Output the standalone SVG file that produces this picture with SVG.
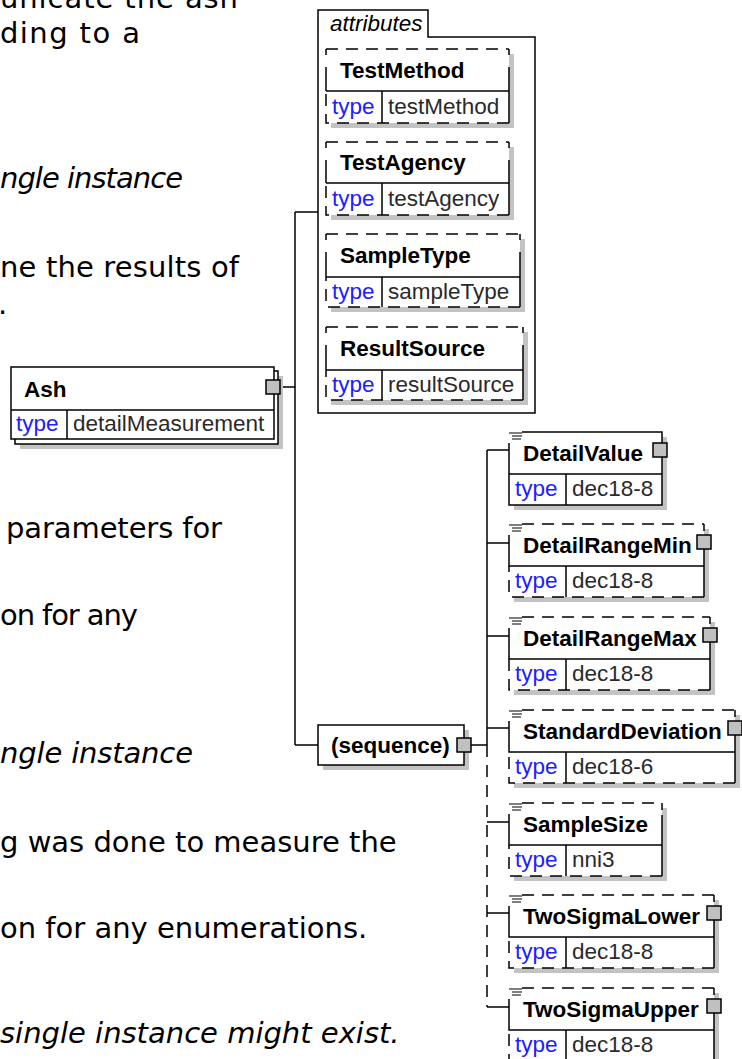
<svg xmlns="http://www.w3.org/2000/svg" width="742" height="1059" viewBox="0 0 742 1059">
<style>
.ln{stroke:#000;stroke-width:1.5;fill:none}
.ds{stroke-dasharray:12 8}
.dh{stroke-dasharray:6 12 200}
.dr{stroke-dasharray:7 5 200}
.sh{fill:#c3c3c3}
.bx{fill:#fff}
.bxs{fill:#fff;stroke:#000;stroke-width:1.5}
.btn{fill:#c0c0c0;stroke:#000;stroke-width:1.5}
.doc{stroke:#000;stroke-width:1.2}
.nm{font-family:"Liberation Sans",Arial,sans-serif;font-weight:bold;font-size:22.5px;fill:#000}
.ty{font-family:"Liberation Sans",Arial,sans-serif;font-size:22.5px;fill:#2020ff}
.tv{font-family:"Liberation Sans",Arial,sans-serif;font-size:22.5px;fill:#2a2a2a}
.it{font-family:"Liberation Sans",Arial,sans-serif;font-style:italic;font-size:22.5px;fill:#000}
.body{font-family:"DejaVu Sans",Verdana,sans-serif;font-size:29px;fill:#000}
.bi{font-style:italic}
</style>
<rect width="742" height="1059" fill="#fff"/>
<g id="bodytext">
<text class="body" x="0" y="8" textLength="238" lengthAdjust="spacing">unicate the ash</text>
<text class="body" x="0" y="43" textLength="140" lengthAdjust="spacing">ding to a</text>
<text class="body bi" x="0" y="188" textLength="183" lengthAdjust="spacing">ngle instance</text>
<text class="body" x="0" y="277" textLength="239" lengthAdjust="spacing">ne the results of</text>
<text class="body" x="-2" y="314">.</text>
<text class="body" x="6" y="538" textLength="216" lengthAdjust="spacing">parameters for</text>
<text class="body" x="0" y="625" textLength="138" lengthAdjust="spacing">on for any</text>
<text class="body bi" x="0" y="763" textLength="193" lengthAdjust="spacing">ngle instance</text>
<text class="body" x="0" y="852">g was done to measure the</text>
<text class="body" x="0" y="938">on for any enumerations.</text>
<text class="body bi" x="0" y="1043">single instance might exist.</text>
</g>
<g id="connectors">
<path class="ln" d="M280,387 H295 M295,212 V745 M295,212 H318 M295,745 H318"/>
<path class="ln" d="M471,745 H487 M487,450 V745"/>
<path class="ln ds" d="M487,745 V1007"/>
<path class="ln" d="M487,450 H509 M487,543 H509 M487,636 H509 M487,728 H509 M487,822 H509 M487,913 H509 M487,1007 H509"/>
</g>
<g id="Ash">
<rect class="sh" x="20" y="376" width="263" height="73"/>
<rect class="bxs" x="15" y="371" width="263" height="73"/>
<rect class="bxs" x="11" y="367" width="263" height="72"/>
<path class="ln" d="M11,410 H274 M67,410 V439"/>
<text class="nm" x="24" y="397">Ash</text>
<text class="ty" x="16" y="431">type</text>
<text class="tv" x="73" y="431">detailMeasurement</text>
<rect class="btn" x="266" y="380" width="14" height="14"/>
</g>
<g id="attributes">
<path class="bxs" d="M318,10 H428 V37 H535 V413 H318 Z"/>
<text class="it" x="330" y="31">attributes</text>
</g>
<g id="TestMethod">
<rect class="sh" x="331" y="54" width="183" height="74"/>
<rect class="bx" x="326" y="49" width="183" height="74"/>
<path class="ln ds" d="M326,49 H509"/>
<path class="ln dh" d="M326,49 V91 M509,49 V91"/>
<path class="ln" d="M326,91 H509 M509,91 V123 M382,91 V123"/>
<path class="ln ds" d="M509,123 H326 V91"/>
<text class="nm" x="340" y="78">TestMethod</text>
<text class="ty" x="332" y="114">type</text>
<text class="tv" x="388" y="114">testMethod</text>
</g>
<g id="TestAgency">
<rect class="sh" x="331" y="147" width="183" height="73"/>
<rect class="bx" x="326" y="142" width="183" height="73"/>
<path class="ln ds" d="M326,142 H509"/>
<path class="ln dh" d="M326,142 V183 M509,142 V183"/>
<path class="ln" d="M326,183 H509 M509,183 V215 M382,183 V215"/>
<path class="ln ds" d="M509,215 H326 V183"/>
<text class="nm" x="340" y="170">TestAgency</text>
<text class="ty" x="332" y="206">type</text>
<text class="tv" x="388" y="206">testAgency</text>
</g>
<g id="SampleType">
<rect class="sh" x="331" y="239" width="194" height="73"/>
<rect class="bx" x="326" y="234" width="194" height="73"/>
<path class="ln ds" d="M326,234 H520"/>
<path class="ln dh" d="M326,234 V277 M520,234 V277"/>
<path class="ln" d="M326,277 H520 M520,277 V307 M382,277 V307"/>
<path class="ln ds" d="M520,307 H326 V277"/>
<text class="nm" x="340" y="263">SampleType</text>
<text class="ty" x="332" y="299">type</text>
<text class="tv" x="388" y="299">sampleType</text>
</g>
<g id="ResultSource">
<rect class="sh" x="331" y="332" width="197" height="73"/>
<rect class="bx" x="326" y="327" width="197" height="73"/>
<path class="ln ds" d="M326,327 H523"/>
<path class="ln dh" d="M326,327 V370 M523,327 V370"/>
<path class="ln" d="M326,370 H523 M523,370 V400 M382,370 V400"/>
<path class="ln ds" d="M523,400 H326 V370"/>
<text class="nm" x="340" y="356">ResultSource</text>
<text class="ty" x="332" y="392">type</text>
<text class="tv" x="388" y="392">resultSource</text>
</g>
<g id="sequence">
<rect class="sh" x="323" y="730" width="146" height="40"/>
<rect class="bxs" x="318" y="725" width="146" height="40"/>
<text class="nm" x="331" y="753">(sequence)</text>
<rect class="btn" x="457" y="738" width="14" height="14"/>
</g>
<g id="DetailValue">
<rect class="sh" x="514" y="437" width="153" height="73"/>
<rect class="bx" x="509" y="432" width="153" height="73"/>
<path class="ln" d="M522,432 H662 V505 H509 V443 M509,474 H662 M566,474 V505"/>
<path class="doc" d="M509,433 H522 M512,436 H522 M512,439 H521"/>
<text class="nm" x="523" y="461">DetailValue</text>
<text class="ty" x="515" y="496">type</text>
<text class="tv" x="572" y="496">dec18-8</text>
<rect class="btn" x="653" y="443" width="14" height="14"/>
</g>
<g id="DetailRangeMin">
<rect class="sh" x="514" y="529" width="195" height="73"/>
<rect class="bx" x="509" y="524" width="195" height="73"/>
<path class="ln ds" d="M522,524 H704"/>
<path class="ln dr" d="M704,524 V566"/>
<path class="ln" d="M509,535 V566 H704 M704,566 V597 M566,566 V597"/>
<path class="ln ds" d="M704,597 H509 V566"/>
<path class="doc" d="M509,525 H522 M512,528 H522 M512,531 H521"/>
<text class="nm" x="523" y="553">DetailRangeMin</text>
<text class="ty" x="515" y="588">type</text>
<text class="tv" x="572" y="588">dec18-8</text>
<rect class="btn" x="697" y="535" width="14" height="14"/>
</g>
<g id="DetailRangeMax">
<rect class="sh" x="514" y="622" width="201" height="73"/>
<rect class="bx" x="509" y="617" width="201" height="73"/>
<path class="ln ds" d="M522,617 H710"/>
<path class="ln dr" d="M710,617 V659"/>
<path class="ln" d="M509,628 V659 H710 M710,659 V690 M566,659 V690"/>
<path class="ln ds" d="M710,690 H509 V659"/>
<path class="doc" d="M509,618 H522 M512,621 H522 M512,624 H521"/>
<text class="nm" x="523" y="646">DetailRangeMax</text>
<text class="ty" x="515" y="681">type</text>
<text class="tv" x="572" y="681">dec18-8</text>
<rect class="btn" x="703" y="628" width="14" height="14"/>
</g>
<g id="StandardDeviation">
<rect class="sh" x="514" y="715" width="226" height="73"/>
<rect class="bx" x="509" y="710" width="226" height="73"/>
<path class="ln ds" d="M522,710 H735"/>
<path class="ln dr" d="M735,710 V752"/>
<path class="ln" d="M509,721 V752 H735 M735,752 V783 M566,752 V783"/>
<path class="ln ds" d="M735,783 H509 V752"/>
<path class="doc" d="M509,711 H522 M512,714 H522 M512,717 H521"/>
<text class="nm" x="523" y="739">StandardDeviation</text>
<text class="ty" x="515" y="774">type</text>
<text class="tv" x="572" y="774">dec18-6</text>
<rect class="btn" x="728" y="721" width="14" height="14"/>
</g>
<g id="SampleSize">
<rect class="sh" x="514" y="808" width="153" height="73"/>
<rect class="bx" x="509" y="803" width="153" height="73"/>
<path class="ln ds" d="M522,803 H662"/>
<path class="ln dr" d="M662,803 V845"/>
<path class="ln" d="M509,814 V845 H662 M662,845 V876 M566,845 V876"/>
<path class="ln ds" d="M662,876 H509 V845"/>
<path class="doc" d="M509,804 H522 M512,807 H522 M512,810 H521"/>
<text class="nm" x="523" y="832">SampleSize</text>
<text class="ty" x="515" y="867">type</text>
<text class="tv" x="572" y="867">nni3</text>
</g>
<g id="TwoSigmaLower">
<rect class="sh" x="514" y="900" width="205" height="73"/>
<rect class="bx" x="509" y="895" width="205" height="73"/>
<path class="ln ds" d="M522,895 H714"/>
<path class="ln dr" d="M714,895 V937"/>
<path class="ln" d="M509,906 V937 H714 M714,937 V968 M566,937 V968"/>
<path class="ln ds" d="M714,968 H509 V937"/>
<path class="doc" d="M509,896 H522 M512,899 H522 M512,902 H521"/>
<text class="nm" x="523" y="924">TwoSigmaLower</text>
<text class="ty" x="515" y="959">type</text>
<text class="tv" x="572" y="959">dec18-8</text>
<rect class="btn" x="707" y="906" width="14" height="14"/>
</g>
<g id="TwoSigmaUpper">
<rect class="sh" x="514" y="993" width="205" height="73"/>
<rect class="bx" x="509" y="988" width="205" height="73"/>
<path class="ln ds" d="M522,988 H714"/>
<path class="ln dr" d="M714,988 V1030"/>
<path class="ln" d="M509,999 V1030 H714 M714,1030 V1061 M566,1030 V1061"/>
<path class="ln ds" d="M714,1061 H509 V1030"/>
<path class="doc" d="M509,989 H522 M512,992 H522 M512,995 H521"/>
<text class="nm" x="523" y="1017">TwoSigmaUpper</text>
<text class="ty" x="515" y="1052">type</text>
<text class="tv" x="572" y="1052">dec18-8</text>
<rect class="btn" x="707" y="999" width="14" height="14"/>
</g>
</svg>
